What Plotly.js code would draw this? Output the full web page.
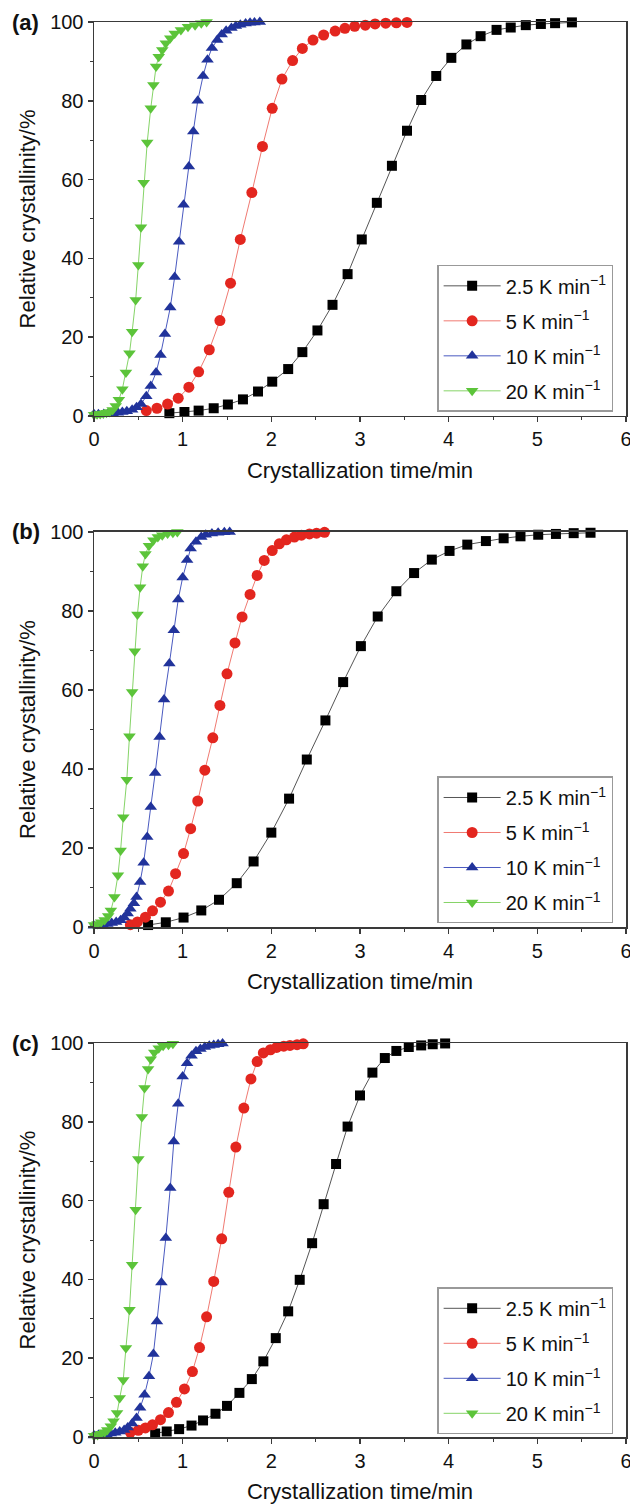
<!DOCTYPE html>
<html><head><meta charset="utf-8">
<script src="https://cdn.plot.ly/plotly-3.0.1.min.js"></script>
<style>body{margin:0;padding:0;background:#fff}#chart{width:630px;height:1505px}</style>
</head><body><div id="chart"></div>
<script>
// Series labels
const seriesNames = ["2.5 K min<sup>\u22121</sup>", "5 K min<sup>\u22121</sup>", "10 K min<sup>\u22121</sup>", "20 K min<sup>\u22121</sup>"];
const panelLabels = ["(a)", "(b)", "(c)"];
const xTitle = "Crystallization time/min";
const yTitle = "Relative crystallinity/%";

// ---- Panel (a) ----
const a_t25 = [0.85,1.02,1.18,1.35,1.51,1.68,1.85,2.01,2.19,2.35,2.52,2.69,2.86,3.02,3.19,3.36,3.53,3.69,3.86,4.03,4.20,4.36,4.54,4.70,4.87,5.04,5.20,5.39];
const a_v25 = [0.7,1.0,1.35,1.95,2.9,4.2,6.2,8.7,11.9,16.2,21.7,28.2,36.0,44.8,54.1,63.5,72.4,80.2,86.3,90.9,94.3,96.4,98.0,98.6,99.2,99.5,99.7,99.9];
const a_t5 = [0.59,0.71,0.83,0.95,1.07,1.18,1.30,1.42,1.54,1.65,1.78,1.90,2.01,2.12,2.24,2.35,2.47,2.59,2.72,2.83,2.94,3.06,3.17,3.29,3.41,3.53];
const a_v5 = [1.35,1.95,3.0,4.5,7.3,11.2,16.8,24.2,33.7,44.8,56.7,68.4,78.1,85.5,90.2,93.3,95.4,96.7,97.7,98.4,98.9,99.2,99.5,99.7,99.8,99.9];
const a_t10 = [0.00,0.05,0.11,0.16,0.21,0.27,0.32,0.37,0.43,0.48,0.53,0.59,0.64,0.70,0.75,0.80,0.86,0.91,0.96,1.01,1.07,1.12,1.17,1.23,1.28,1.33,1.39,1.44,1.49,1.55,1.60,1.65,1.71,1.76,1.81,1.87];
const a_v10 = [0.4,0.4,0.5,0.6,0.7,0.8,1.0,1.2,1.6,2.2,3.0,5.0,7.6,11.0,15.5,20.8,27.5,35.3,44.2,53.6,63.3,72.2,80.0,86.3,90.4,93.4,95.4,96.8,97.8,98.5,99.0,99.3,99.6,99.8,99.9,100];
const a_t20 = [0.00,0.035,0.07,0.105,0.14,0.175,0.21,0.245,0.28,0.32,0.36,0.40,0.43,0.47,0.50,0.53,0.56,0.60,0.64,0.67,0.70,0.73,0.77,0.81,0.86,0.91,0.98,1.06,1.14,1.21,1.27];
const a_v20 = [0.3,0.4,0.5,0.6,0.8,1.0,1.5,2.5,4.1,6.8,11.0,15.9,21.4,29.4,38.3,47.9,59.2,69.4,78.1,84.0,88.7,91.2,92.9,94.6,95.9,97.1,98.0,98.8,99.2,99.7,100];

// ---- Panel (b) ----
const b_t25 = [0.61,0.81,1.01,1.21,1.41,1.61,1.80,2.00,2.20,2.40,2.61,2.81,3.01,3.20,3.41,3.61,3.81,4.01,4.21,4.42,4.62,4.81,5.01,5.21,5.41,5.60];
const b_v25 = [0.5,1.2,2.4,4.2,6.9,11.1,16.6,23.9,32.5,42.4,52.3,62.0,71.1,78.6,85.0,89.6,93.0,95.2,96.8,97.7,98.4,98.9,99.3,99.5,99.7,99.8];
const b_t5 = [0.41,0.49,0.58,0.66,0.75,0.84,0.92,1.01,1.09,1.17,1.25,1.34,1.42,1.50,1.59,1.67,1.76,1.84,1.92,2.01,2.09,2.17,2.26,2.34,2.43,2.51,2.60];
const b_v5 = [0.6,1.3,2.5,4.1,6.3,9.1,13.5,18.6,24.9,31.9,39.7,47.9,56.1,64.1,71.9,78.5,84.2,89.0,92.8,95.3,97.0,98.0,98.7,99.2,99.5,99.7,99.9];
const b_t10 = [0.00,0.05,0.10,0.15,0.20,0.25,0.30,0.34,0.38,0.41,0.45,0.48,0.52,0.56,0.60,0.64,0.69,0.74,0.79,0.85,0.90,0.95,1.00,1.05,1.09,1.15,1.21,1.26,1.33,1.40,1.47,1.53];
const b_v10 = [0.3,0.4,0.6,0.8,1.0,1.3,1.7,2.4,3.4,4.6,6.0,7.6,11.4,16.3,22.8,30.4,39.0,48.1,57.6,66.7,75.1,82.9,88.5,92.9,95.8,97.5,98.7,99.3,99.6,99.8,99.9,100];
const b_t20 = [0.00,0.04,0.08,0.12,0.16,0.19,0.23,0.27,0.30,0.33,0.37,0.40,0.43,0.46,0.49,0.52,0.55,0.58,0.62,0.67,0.72,0.77,0.83,0.89,0.94];
const b_v20 = [0.5,0.8,1.2,1.8,2.8,4.2,7.6,13.1,19.4,27.8,37.3,48.3,59.5,69.8,79.1,86.0,91.3,94.4,96.5,97.9,98.7,99.2,99.6,99.8,100];

// ---- Panel (c) ----
const c_t25 = [0.69,0.82,0.96,1.10,1.23,1.37,1.50,1.64,1.78,1.91,2.05,2.19,2.32,2.46,2.59,2.73,2.86,3.00,3.14,3.28,3.41,3.55,3.69,3.82,3.96];
const c_v25 = [0.9,1.4,2.0,2.9,4.2,5.9,7.9,11.2,14.7,19.2,25.1,31.9,39.9,49.2,59.1,69.3,78.8,86.7,92.5,96.2,98.0,99.0,99.4,99.7,99.9];
const c_t5 = [0.41,0.50,0.58,0.66,0.75,0.84,0.93,1.02,1.11,1.19,1.27,1.35,1.44,1.52,1.60,1.69,1.77,1.84,1.91,1.99,2.06,2.14,2.21,2.29,2.36];
const c_v5 = [1.2,1.7,2.3,3.1,4.4,6.2,8.8,12.2,16.6,22.7,30.5,39.5,50.3,62.1,73.6,83.5,90.9,95.3,97.5,98.3,98.9,99.2,99.4,99.6,99.8];
const c_t10 = [0.00,0.05,0.10,0.14,0.19,0.24,0.29,0.34,0.38,0.43,0.48,0.52,0.57,0.62,0.67,0.71,0.76,0.81,0.86,0.90,0.95,1.00,1.05,1.10,1.15,1.20,1.25,1.30,1.35,1.40,1.45];
const c_v10 = [0.4,0.5,0.6,0.7,0.9,1.1,1.4,1.8,2.4,3.4,4.8,7.4,10.7,15.4,21.1,29.3,39.2,50.5,63.2,75.0,84.6,91.5,94.9,96.8,97.9,98.5,99.0,99.3,99.5,99.7,99.9];
const c_t20 = [0.00,0.04,0.08,0.12,0.15,0.19,0.22,0.26,0.29,0.33,0.36,0.40,0.43,0.47,0.50,0.54,0.57,0.61,0.64,0.68,0.73,0.78,0.84,0.89];
const c_v20 = [0.3,0.5,0.8,1.2,1.8,2.7,4.0,6.1,9.9,14.5,22.6,32.3,43.7,57.7,70.6,81.2,88.6,93.4,95.9,97.6,98.7,99.3,99.6,99.8];

const panels = [
  {t:[a_t25,a_t5,a_t10,a_t20], v:[a_v25,a_v5,a_v10,a_v20]},
  {t:[b_t25,b_t5,b_t10,b_t20], v:[b_v25,b_v5,b_v10,b_v20]},
  {t:[c_t25,c_t5,c_t10,c_t20], v:[c_v25,c_v5,c_v10,c_v20]}
];

const markerColors = ['#000000','#e3261f','#21339b','#5cc43a'];
const lineColors = ['#555555','#f07a72','#4a5ac0','#86d468'];
const symbols = ['square','circle','triangle-up','triangle-down'];
const msizes = [10,11,11,11];

const FONT = 'Liberation Sans, Arial, Helvetica, sans-serif';
const TXT = '#111';
const traces = [];
panels.forEach((p, pi) => {
  const sfx = pi === 0 ? '' : String(pi+1);
  for (let s = 0; s < 4; s++) {
    traces.push({
      type:'scatter', mode:'lines+markers',
      x:p.t[s], y:p.v[s], name:seriesNames[s],
      xaxis:'x'+sfx, yaxis:'y'+sfx,
      legend: pi === 0 ? 'legend' : 'legend'+(pi+1),
      legendgroup: 'p'+pi+'s'+s,
      cliponaxis:false,
      line:{color:lineColors[s], width:1},
      marker:{symbol:symbols[s], size:msizes[s], color:markerColors[s], line:{width:0}}
    });
  }
});

const domains = [[0.7216,1.0],[0.3604,0.6396],[0.0,0.2784]];
function xax(pi){
  return {domain:[0,1], anchor: pi===0?'y':'y'+(pi+1), range:[0,6], dtick:1, tick0:0,
    showline:true, linecolor:'#3a3a3a', linewidth:1.5, mirror:true, ticks:'outside', ticklen:5, tickwidth:1.5, tickcolor:'#3a3a3a',
    minor:{dtick:0.5, ticks:'outside', ticklen:3, tickwidth:1, tickcolor:'#3a3a3a', showgrid:false},
    showgrid:false, zeroline:false, ticklabeloverflow:'allow', tickfont:{size:20, family:FONT, color:TXT},
    title:{text:xTitle, font:{size:22, family:FONT, color:TXT}, standoff:13}};
}
function yax(pi){
  return {domain:domains[pi], anchor: pi===0?'x':'x'+(pi+1), range:[0,100], dtick:20, tick0:0,
    showline:true, linecolor:'#3a3a3a', linewidth:1.5, mirror:true, ticks:'outside', ticklen:5, tickwidth:1.5, tickcolor:'#3a3a3a',
    minor:{dtick:10, ticks:'outside', ticklen:3, tickwidth:1, tickcolor:'#3a3a3a', showgrid:false},
    showgrid:false, zeroline:false, tickfont:{size:20, family:FONT, color:TXT},
    title:{text:yTitle, font:{size:22, family:FONT, color:TXT}, standoff:8}};
}
function leg(pi){
  const ybot = [0.7245, 0.3629, 0.0019][pi];
  return {x:0.645, y:ybot, xanchor:'left', yanchor:'bottom', bgcolor:'#ffffff', bordercolor:'#999', borderwidth:1.5,
    font:{size:20, family:FONT, color:TXT}, tracegroupgap:6, itemwidth:57};
}

const layout = {
  width:630, height:1505, margin:{l:94, r:4, t:22, b:68},
  paper_bgcolor:'#ffffff', plot_bgcolor:'#ffffff',
  font:{family:FONT, size:20, color:TXT},
  showlegend:true,
  xaxis:xax(0), yaxis:yax(0), xaxis2:xax(1), yaxis2:yax(1), xaxis3:xax(2), yaxis3:yax(2),
  legend:leg(0), legend2:leg(1), legend3:leg(2),
  annotations: panelLabels.map((lab, i) => ({
    text:'<b>'+lab+'</b>', xref:'paper', yref:'paper', x:-0.158, y:domains[i][1], xanchor:'left', yanchor:'middle',
    showarrow:false, font:{size:22, family:FONT, color:TXT}
  }))
};

Plotly.newPlot('chart', traces, layout, {displayModeBar:false, staticPlot:true});
</script></body></html>
